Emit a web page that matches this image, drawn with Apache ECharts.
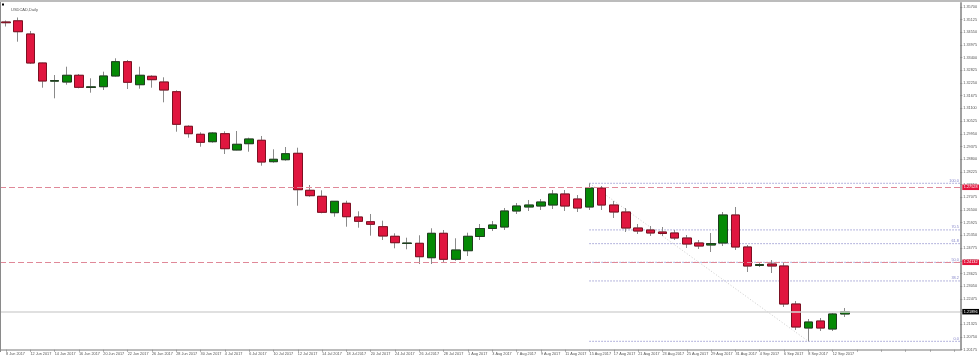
<!DOCTYPE html>
<html><head><meta charset="utf-8">
<script src="https://cdn.jsdelivr.net/npm/echarts@6/dist/echarts.min.js"></script>
<style>html,body{margin:0;padding:0;background:#fff}#c{width:980px;height:358px}</style>
</head><body><div id="c"></div>
<script>
const chartTitle = 'USDCAD,Daily';
const dates = ['8 Jun 2017','9 Jun 2017','12 Jun 2017','13 Jun 2017','14 Jun 2017','15 Jun 2017','16 Jun 2017','19 Jun 2017','20 Jun 2017','21 Jun 2017',
'22 Jun 2017','23 Jun 2017','26 Jun 2017','27 Jun 2017','28 Jun 2017','29 Jun 2017','30 Jun 2017','3 Jul 2017','4 Jul 2017','5 Jul 2017',
'6 Jul 2017','7 Jul 2017','10 Jul 2017','11 Jul 2017','12 Jul 2017','13 Jul 2017','14 Jul 2017','17 Jul 2017','18 Jul 2017','19 Jul 2017',
'20 Jul 2017','21 Jul 2017','24 Jul 2017','25 Jul 2017','26 Jul 2017','27 Jul 2017','28 Jul 2017','31 Jul 2017','1 Aug 2017','2 Aug 2017',
'3 Aug 2017','4 Aug 2017','7 Aug 2017','8 Aug 2017','9 Aug 2017','10 Aug 2017','11 Aug 2017','14 Aug 2017','15 Aug 2017','16 Aug 2017',
'17 Aug 2017','18 Aug 2017','21 Aug 2017','22 Aug 2017','23 Aug 2017','24 Aug 2017','25 Aug 2017','28 Aug 2017','29 Aug 2017','30 Aug 2017',
'31 Aug 2017','1 Sep 2017','4 Sep 2017','5 Sep 2017','6 Sep 2017','7 Sep 2017','8 Sep 2017','11 Sep 2017','12 Sep 2017','13 Sep 2017'];
const opens = [1.35012,1.35066,1.34469,1.33156,1.32332,1.32295,1.32599,1.32046,1.32083,1.32567,
1.33215,1.32173,1.32554,1.32295,1.31856,1.30290,1.29928,1.29592,1.29955,1.29217,
1.29502,1.29656,1.28687,1.28777,1.29067,1.27392,1.27120,1.26378,1.26803,1.26183,
1.25970,1.25744,1.25309,1.24983,1.24992,1.24340,1.25445,1.24268,1.24657,1.25300,
1.25662,1.25730,1.26455,1.26636,1.26681,1.26726,1.27225,1.26998,1.26636,1.27496,
1.26726,1.26410,1.25685,1.25595,1.25504,1.25459,1.25232,1.25006,1.24915,1.25006,
1.26274,1.24825,1.23987,1.24055,1.23965,1.22244,1.21157,1.21474,1.21112,1.21791];
const closes = [1.34980,1.34573,1.33156,1.32341,1.32363,1.32599,1.32055,1.32078,1.32567,1.33215,
1.32282,1.32599,1.32400,1.31933,1.30380,1.29955,1.29565,1.29986,1.29276,1.29475,
1.29715,1.28673,1.28796,1.29049,1.27419,1.27148,1.26396,1.26894,1.26197,1.25988,
1.25853,1.25323,1.25020,1.25006,1.24386,1.25445,1.24268,1.24689,1.25309,1.25662,
1.25821,1.26455,1.26681,1.26726,1.26862,1.27225,1.26681,1.26591,1.27496,1.26726,
1.26410,1.25685,1.25549,1.25459,1.25436,1.25232,1.24961,1.24870,1.24983,1.26274,
1.24825,1.23965,1.24032,1.23965,1.22244,1.21203,1.21429,1.21157,1.21791,1.21896];
const lows = [1.34808,1.34120,1.33110,1.32037,1.31557,1.32173,1.32010,1.31811,1.31933,1.32535,
1.31979,1.31992,1.32037,1.31376,1.30045,1.29774,1.29366,1.29547,1.29036,1.29203,
1.29140,1.28506,1.28642,1.28732,1.26695,1.27102,1.26351,1.26197,1.25744,1.25699,
1.25337,1.25142,1.24766,1.24721,1.24055,1.24055,1.24146,1.24205,1.24417,1.25142,
1.25549,1.25595,1.26319,1.26455,1.26500,1.26545,1.26455,1.26410,1.26500,1.26500,
1.26138,1.25504,1.25413,1.25323,1.25323,1.25142,1.24780,1.24734,1.24598,1.24870,
1.24689,1.23693,1.23919,1.23648,1.22108,1.21067,1.20555,1.21022,1.21022,1.21656];
const highs = [1.35080,1.35216,1.34605,1.33170,1.32612,1.32988,1.32658,1.32463,1.32762,1.33368,
1.33292,1.32988,1.32599,1.32508,1.31920,1.30335,1.30018,1.30032,1.30063,1.30077,
1.29774,1.29851,1.29248,1.29352,1.29321,1.27632,1.27392,1.26905,1.26921,1.26441,
1.26319,1.26016,1.25445,1.25246,1.25355,1.25672,1.25595,1.25219,1.25472,1.25866,
1.26002,1.26591,1.26817,1.26953,1.26998,1.27406,1.27406,1.27179,1.27709,1.27587,
1.26908,1.26591,1.25866,1.25776,1.25730,1.25595,1.25368,1.25142,1.25459,1.26410,
1.26636,1.24915,1.24146,1.24236,1.24146,1.22380,1.21565,1.21610,1.21837,1.22063];
const shiftBars = 9;
const resistanceLevel = 1.27528;
const supportLevel = 1.24132;
const lastPrice = 1.21896;
const fibRatios = [100, 70.5, 61.8, 50, 38.2, 0];
const fibFromIndex = 48;
const fibToIndex = 66;
const yMin = 1.20175, yMax = 1.35872, yStep = 0.00575;

const FONT = 'Liberation Sans';
const categories = dates.concat(Array.from({length: shiftBars}, (_, i) => ' '.repeat(i + 1)));
const ohlc = dates.map((d, i) => [opens[i], closes[i], lows[i], highs[i]]);
const bodies = dates.map((d, i) => [opens[i], closes[i], Math.min(opens[i], closes[i]), Math.max(opens[i], closes[i])]);
const fibHigh = highs[fibFromIndex];
const fibLow = lows[fibToIndex];
const fibData = fibRatios.map(r => [fibFromIndex, fibLow + (fibHigh - fibLow) * r / 100, r]);

const boxLabel = (bg) => ({
  show: true, position: 'end', distance: 2,
  formatter: p => Number(p.value).toFixed(5),
  color: '#fff', backgroundColor: bg, fontSize: 3.8, fontFamily: FONT,
  padding: [1, 1.5, 0.5, 1.5]
});
const levelLine = (value, bg, style) => ({
  type: 'line', silent: true, z: 1, clip: false, symbol: 'none', data: [],
  markLine: {
    silent: true, symbol: 'none', animation: false, precision: 5,
    lineStyle: style, label: boxLabel(bg),
    data: [{yAxis: value}]
  }
});

const chart = echarts.init(document.getElementById('c'), null, {renderer: 'canvas'});
chart.setOption({
  animation: false,
  backgroundColor: '#fff',
  title: {
    text: chartTitle, left: 6, top: 2.5,
    textStyle: {fontSize: 4, color: '#555', fontWeight: 'normal', fontFamily: FONT}
  },
  graphic: [
    {type: 'rect', shape: {x: 0, y: 0, width: 980, height: 2}, style: {fill: '#bcbcbc'}, silent: true},
    {type: 'rect', shape: {x: 0, y: 2, width: 1, height: 350}, style: {fill: '#8a8a8a'}, silent: true, z: 100},
    {type: 'rect', shape: {x: 2, y: 3.5, width: 2, height: 2}, style: {fill: '#000'}, silent: true}
  ],
  grid: {left: -5.74, right: 16, top: 3, bottom: 8.3, containLabel: false},
  xAxis: {
    type: 'category', data: categories, boundaryGap: true,
    axisLine: {show: true, lineStyle: {color: '#a6a6a6', width: 1.5}},
    axisTick: {show: true, interval: 1, alignWithLabel: true, length: 2, lineStyle: {color: '#999'}},
    axisLabel: {interval: 1, align: 'left', fontSize: 3.8, margin: 2, color: '#555', fontFamily: FONT,
      formatter: v => v.trim()},
    splitLine: {show: false}
  },
  yAxis: {
    type: 'value', position: 'right', min: yMin, max: yMax, interval: yStep, scale: true,
    axisLine: {show: true, lineStyle: {color: '#a0a0a0', width: 2}},
    axisTick: {show: true, length: 2, lineStyle: {color: '#888'}},
    axisLabel: {fontSize: 3.8, margin: 3, color: '#555', fontFamily: FONT, showMaxLabel: false,
      formatter: v => v.toFixed(5)},
    splitLine: {show: false}
  },
  series: [
    levelLine(lastPrice, '#000', {color: '#d6d6d6', type: 'solid', width: 1.5}),
    levelLine(resistanceLevel, '#e3143c', {color: '#e08898', type: [6, 3], width: 1}),
    levelLine(supportLevel, '#e3143c', {color: '#e08898', type: [6, 3], width: 1}),
    {
      type: 'custom', coordinateSystem: 'cartesian2d', silent: true, z: 1, clip: false,
      data: fibData,
      encode: {x: 0, y: 1},
      renderItem: (params, api) => {
        const p = api.coord([api.value(0), api.value(1)]);
        const cs = params.coordSys;
        const xr = cs.x + cs.width;
        return {type: 'group', children: [
          {type: 'line', shape: {x1: p[0], y1: p[1], x2: xr, y2: p[1]},
            style: {stroke: '#6c6cbc', lineWidth: 1, lineDash: [1, 2]}},
          {type: 'text', x: xr - 1.5, y: p[1] - 0.8,
            style: {text: api.value(2).toFixed(1), align: 'right', verticalAlign: 'bottom',
              fontSize: 3.8, fill: '#8484c8', fontFamily: FONT}}
        ]};
      }
    },
    {
      type: 'line', silent: true, z: 1, clip: false, symbol: 'none',
      data: [[fibFromIndex, fibHigh], [fibToIndex, fibLow]],
      lineStyle: {color: '#cdcdcd', width: 1, type: [1, 2]}
    },
    {
      type: 'candlestick', name: 'wick', data: ohlc, barWidth: 9, z: 2, silent: true,
      itemStyle: {color: 'rgba(0,0,0,0)', color0: 'rgba(0,0,0,0)', borderColor: '#8a8a8a', borderColor0: '#8a8a8a', borderWidth: 1}
    },
    {
      type: 'candlestick', name: 'body', data: bodies, barWidth: 9, z: 3, silent: true,
      itemStyle: {color: '#058a05', color0: '#e0163f', borderColor: '#1f3f1f', borderColor0: '#7e1022', borderWidth: 1}
    }
  ]
});
</script>
</body></html>
